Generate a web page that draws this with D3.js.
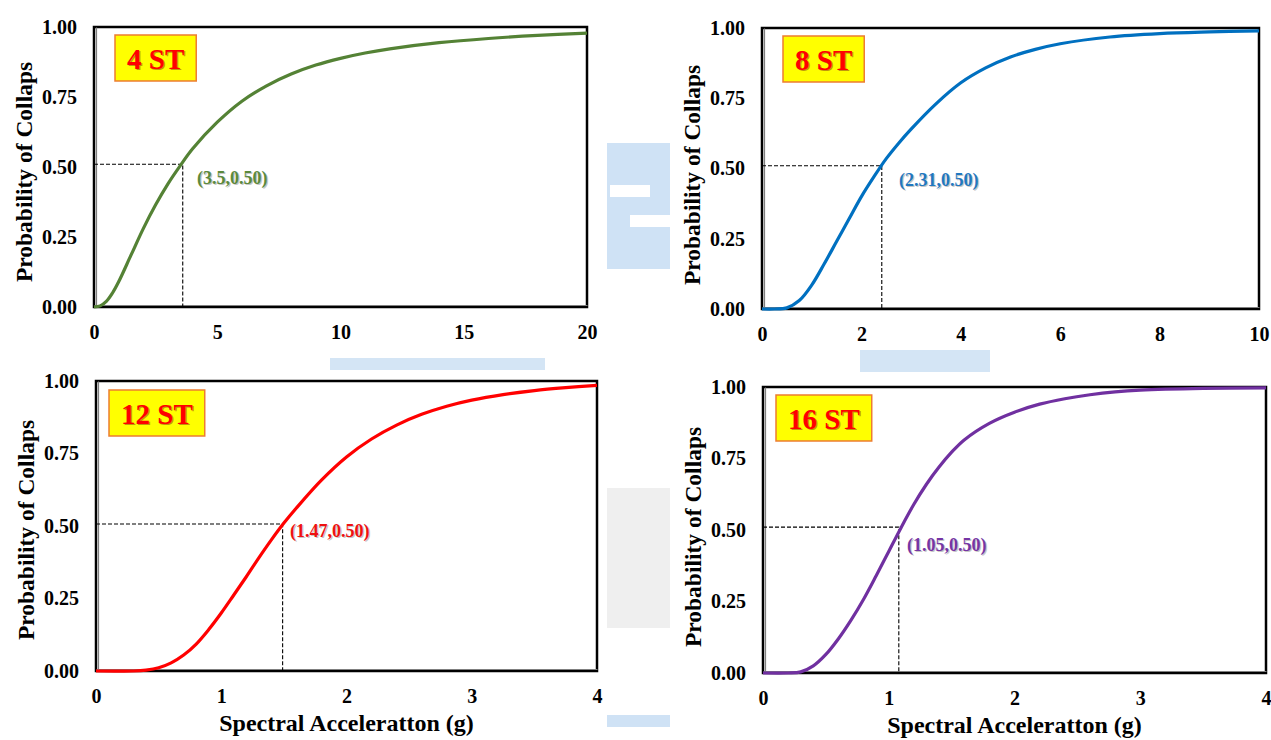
<!DOCTYPE html>
<html>
<head>
<meta charset="utf-8">
<script src="https://cdn.jsdelivr.net/npm/d3@7"></script>
<style>
  html, body { margin: 0; padding: 0; background: #fff; }
  svg { display: block; font-family: "Liberation Serif", "Times New Roman", serif; font-weight: bold; }
</style>
</head>
<body>
<svg id="chart" width="1271" height="740"></svg>
<script>
// ---------------- data ----------------
const storeyLabels = ["4 ST", "8 ST", "12 ST", "16 ST"];

const sa4ST = [0, 0.25, 0.5, 0.75, 1.0, 1.5, 2.0, 2.5, 3.0, 3.5, 4.0, 5.0, 6.0, 7.0, 8.0, 9.0, 10, 11, 12, 14, 16, 18, 20];
const pc4ST = [0, 0.004, 0.02, 0.05, 0.09, 0.185, 0.28, 0.365, 0.44, 0.505, 0.565, 0.66, 0.735, 0.79, 0.832, 0.864, 0.888, 0.907, 0.922, 0.944, 0.959, 0.97, 0.978];

const sa8ST = [0, 0.25, 0.5, 0.75, 1.0, 1.25, 1.5, 1.75, 2.0, 2.25, 2.5, 2.75, 3.0, 3.5, 4.0, 4.5, 5.0, 5.5, 6.0, 7.0, 8.0, 9.0, 10];
const pc8ST = [0, 0, 0.004, 0.03, 0.085, 0.16, 0.24, 0.32, 0.40, 0.47, 0.535, 0.59, 0.64, 0.73, 0.805, 0.858, 0.897, 0.924, 0.944, 0.968, 0.98, 0.986, 0.99];

const sa12ST = [0, 0.3, 0.4, 0.5, 0.6, 0.7, 0.8, 0.9, 1.0, 1.1, 1.2, 1.3, 1.4, 1.5, 1.6, 1.8, 2.0, 2.2, 2.4, 2.6, 2.8, 3.0, 3.25, 3.5, 3.75, 4.0];
const pc12ST = [0, 0, 0.003, 0.011, 0.028, 0.055, 0.093, 0.143, 0.20, 0.262, 0.325, 0.39, 0.452, 0.51, 0.562, 0.658, 0.738, 0.80, 0.848, 0.885, 0.913, 0.934, 0.953, 0.967, 0.977, 0.985];

const sa16ST = [0, 0.2, 0.3, 0.4, 0.5, 0.6, 0.7, 0.8, 0.9, 1.0, 1.1, 1.2, 1.3, 1.4, 1.5, 1.6, 1.8, 2.0, 2.2, 2.4, 2.6, 2.8, 3.0, 3.5, 4.0];
const pc16ST = [0, 0, 0.004, 0.025, 0.065, 0.12, 0.185, 0.258, 0.34, 0.425, 0.51, 0.59, 0.66, 0.72, 0.772, 0.815, 0.873, 0.912, 0.94, 0.959, 0.973, 0.983, 0.989, 0.995, 0.997];

// median marker (where the dashed guides meet) and its label
const markSa = [3.6, 2.41, 1.49, 1.08];
const markP = [0.51, 0.51, 0.507, 0.51];
const markLabels = ["(3.5,0.50)", "(2.31,0.50)", "(1.47,0.50)", "(1.05,0.50)"];

const xMax = [20, 10, 4, 4];
const xTicks4ST = [0, 5, 10, 15, 20];
const xTicks8ST = [0, 2, 4, 6, 8, 10];
const xTicks12ST = [0, 1, 2, 3, 4];
const xTicks16ST = [0, 1, 2, 3, 4];
const yTicks = [0, 0.25, 0.5, 0.75, 1.0];

const yTitle = "Probability of Collaps";
const xTitle = "Spectral Acceleratton (g)";

// ---------------- layout / styles ----------------
const panels = [
  { sa: sa4ST, pc: pc4ST, xt: xTicks4ST, l: 94, r: 587, t: 27, b: 307, color: "#548235", labColor: "#5b8a3c",
    box: [115, 35], lab: [197, 184], yTitleC: 172, xTitle: false },
  { sa: sa8ST, pc: pc8ST, xt: xTicks8ST, l: 762, r: 1259, t: 28, b: 309, color: "#0070C0", labColor: "#1f78c1",
    box: [783, 36], lab: [899, 186], yTitleC: 175, xTitle: false },
  { sa: sa12ST, pc: pc12ST, xt: xTicks12ST, l: 96, r: 597, t: 381, b: 671, color: "#FF0000", labColor: "#ee1111",
    box: [109, 390], lab: [290, 537], yTitleC: 530, xTitle: true, xTitleY: 731 },
  { sa: sa16ST, pc: pc16ST, xt: xTicks16ST, l: 763, r: 1266, t: 387, b: 673, color: "#7030A0", labColor: "#7535a5",
    box: [776, 395], lab: [907, 551], yTitleC: 537, xTitle: true, xTitleY: 733 }
];

const svg = d3.select("#chart");

// faint background watermark fragments from the source page
const wm = svg.append("g").attr("class", "watermark");
wm.append("rect").attr("x", 607).attr("y", 143).attr("width", 63).attr("height", 126).attr("fill", "#cfe2f5");
wm.append("rect").attr("x", 610).attr("y", 185).attr("width", 40).attr("height", 12).attr("fill", "#ffffff");
wm.append("rect").attr("x", 630).attr("y", 215).attr("width", 40).attr("height", 12).attr("fill", "#ffffff");
wm.append("rect").attr("x", 330).attr("y", 358).attr("width", 215).attr("height", 12).attr("fill", "#d4e5f5");
wm.append("rect").attr("x", 860).attr("y", 350).attr("width", 130).attr("height", 22).attr("fill", "#d4e5f5");
wm.append("rect").attr("x", 607).attr("y", 488).attr("width", 63).attr("height", 140).attr("fill", "#efefef");
wm.append("rect").attr("x", 607).attr("y", 715).attr("width", 63).attr("height", 12).attr("fill", "#cfe2f5");

panels.forEach((p, i) => {
  const g = svg.append("g");
  const x = d3.scaleLinear().domain([0, xMax[i]]).range([p.l, p.r]);
  const y = d3.scaleLinear().domain([0, 1]).range([p.b, p.t]);

  // plot frame
  g.append("rect").attr("x", p.l).attr("y", p.t).attr("width", p.r - p.l).attr("height", p.b - p.t)
    .attr("fill", "#fff").attr("stroke", "#000").attr("stroke-width", 2.5);

  // axes
  const xAxis = d3.axisBottom(x).tickValues(p.xt).tickSize(0).tickPadding(18).tickFormat(d3.format("d"));
  const yAxis = d3.axisLeft(y).tickValues(yTicks).tickSize(0).tickPadding(17).tickFormat(d3.format(".2f"));
  const gx = g.append("g").attr("transform", `translate(0,${p.b})`).call(xAxis);
  const gy = g.append("g").attr("transform", `translate(${p.l},0)`).call(yAxis);
  [gx, gy].forEach(a => {
    a.select(".domain").attr("stroke", "#7f7f7f").attr("stroke-width", 1.2);
    a.selectAll("text").attr("font-family", "Liberation Serif, Times New Roman, serif")
      .attr("font-weight", "bold").attr("font-size", 20).attr("fill", "#000");
  });
  gx.select(".domain").attr("transform", "translate(0,-2)");
  gy.select(".domain").attr("transform", "translate(2,0)");

  // dashed guides
  g.append("path")
    .attr("d", `M${x(0)},${y(markP[i])}H${x(markSa[i])}V${y(0)}`)
    .attr("fill", "none").attr("stroke", "#000").attr("stroke-width", 1.1).attr("stroke-dasharray", "4,2");

  // curve
  const pts = p.sa.map((s, k) => [s, p.pc[k]]);
  g.append("path").datum(pts)
    .attr("d", d3.line().x(d => x(d[0])).y(d => y(d[1])).curve(d3.curveCatmullRom.alpha(0.5)))
    .attr("fill", "none").attr("stroke", p.color).attr("stroke-width", 3.2).attr("stroke-linecap", "butt");

  // marker label with soft shadow
  g.append("text").attr("x", p.lab[0] + 1.2).attr("y", p.lab[1] + 1.2).text(markLabels[i])
    .attr("font-size", 18).attr("fill", "#999").attr("opacity", 0.55);
  g.append("text").attr("x", p.lab[0]).attr("y", p.lab[1]).text(markLabels[i])
    .attr("font-size", 18).attr("fill", p.labColor);

  // storey box
  const bx = g.append("g");
  const rect = bx.append("rect").attr("fill", "#FFFF00").attr("stroke", "#ED7D31").attr("stroke-width", 1.5);
  const sh = bx.append("text").attr("font-size", 29).attr("fill", "#7a1a1a").attr("opacity", 0.45).text(storeyLabels[i]);
  const tx = bx.append("text").attr("font-size", 29).attr("fill", "#FF0000").text(storeyLabels[i]);
  const w = tx.node().getComputedTextLength();
  const bw = w + 24, bh = 46;
  rect.attr("x", p.box[0]).attr("y", p.box[1]).attr("width", bw).attr("height", bh);
  tx.attr("x", p.box[0] + 12).attr("y", p.box[1] + 34);
  sh.attr("x", p.box[0] + 13.3).attr("y", p.box[1] + 35.3);

  // axis titles
  g.append("text")
    .attr("transform", `translate(${p.l - 62},${p.yTitleC}) rotate(-90)`)
    .attr("text-anchor", "middle").attr("font-size", 23.5).attr("fill", "#000").text(yTitle);
  if (p.xTitle) {
    g.append("text").attr("x", (p.l + p.r) / 2).attr("y", p.xTitleY)
      .attr("text-anchor", "middle").attr("font-size", 24).attr("fill", "#000").text(xTitle);
  }
});
</script>
</body>
</html>
